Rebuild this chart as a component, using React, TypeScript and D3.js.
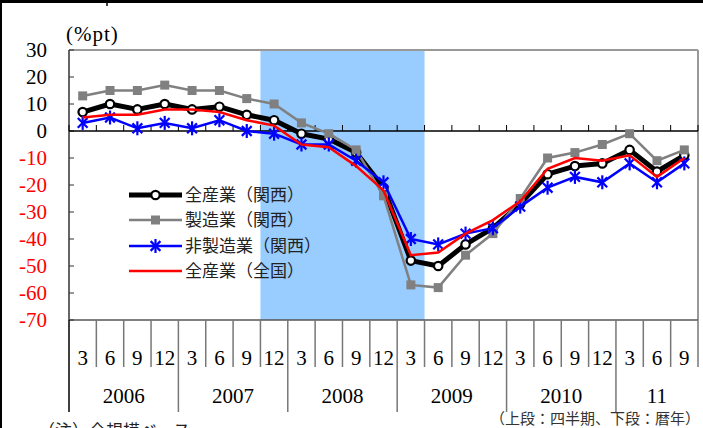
import React from "react";
import * as d3 from "d3";

const months = ["3","6","9","12","3","6","9","12","3","6","9","12","3","6","9","12","3","6","9","12","3","6","9"];
const years = ["2006","2007","2008","2009","2010","11"];
const yearSpans = [4,4,4,4,4,3];
const yTicks = [30,20,10,0,-10,-20,-30,-40,-50,-60,-70];

const allKansai = [7,10,8,10,8,9,6,4,-1,-3,-8,-21,-48,-50,-42,-36,-27,-16,-13,-12,-7,-15,-9];
const mfgKansai = [13,15,15,17,15,15,12,10,3,-1,-7,-24,-57,-58,-46,-38,-25,-10,-8,-5,-1,-11,-7];
const nonMfgKansai = [3,5,1,3,1,4,0,-1,-5,-5,-11,-19,-40,-42,-38,-36,-28,-21,-17,-19,-12,-19,-12];
const allJapan = [5,6,6,8,8,7,4,2,-5,-6,-13,-22,-46,-45,-38,-33,-26,-14,-10,-11,-9,-17,-10];

const seriesNames = ["全産業（関西）","製造業（関西）","非製造業（関西）","全産業（全国）"];
const recessionStart = 7;
const recessionEnd = 13;

const L = 69, R = 698, T = 50, B = 320;
const serif = "'Liberation Serif','Times New Roman',serif";
const cjk = "'Noto Sans CJK JP','Noto Sans',sans-serif";

function Star({x, y, s}: {x:number;y:number;s:number}) {
  const d = s*0.7;
  return (
    <g stroke="#0000ff" strokeWidth={2.2}>
      <line x1={x} y1={y-s} x2={x} y2={y+s}/>
      <line x1={x-d} y1={y-d} x2={x+d} y2={y+d}/>
      <line x1={x-d} y1={y+d} x2={x+d} y2={y-d}/>
    </g>
  );
}

export default function App() {
  const idx = d3.range(months.length);
  const x = d3.scaleBand<number>().domain(idx).range([L, R]).paddingInner(0).paddingOuter(0);
  const bw = x.bandwidth();
  const cx = (i:number) => (x(i) as number) + bw/2;
  const y = d3.scaleLinear().domain([-70,30]).range([B,T]);
  const line = (vals:number[]) => d3.line<number>().x((_,i)=>cx(i)).y(v=>y(v))(vals) as string;
  const boundaries = d3.range(months.length+1).map(k => L + k*bw);
  let acc = 0;
  const yearBounds = yearSpans.map(s => { const a = acc; acc += s; return [a, acc]; });

  const legendY = [195, 220, 246, 271];
  const lx1 = 129, lx2 = 182;

  return (
    <svg width={703} height={428} style={{position:"absolute", left:0, top:0}}>
      <rect width={703} height={428} fill="#fff"/>
      <line x1={0} y1={1.5} x2={703} y2={1.5} stroke="#000" strokeWidth={3}/>
      <line x1={1} y1={0} x2={1} y2={428} stroke="#000" strokeWidth={2}/>
      <line x1={107} y1={0} x2={107} y2={6} stroke="#000" strokeWidth={1.5}/>

      {/* recession shading */}
      <rect x={L + recessionStart*bw} y={T} width={(recessionEnd-recessionStart)*bw} height={B-T} fill="#99ccff"/>

      {/* frame */}
      <line x1={L} y1={T} x2={R} y2={T} stroke="#999" strokeWidth={2}/>
      <line x1={R} y1={T} x2={R} y2={B} stroke="#999" strokeWidth={2}/>
      <line x1={L} y1={B} x2={R} y2={B} stroke="#555" strokeWidth={1.5}/>
      <line x1={L} y1={T} x2={L} y2={B} stroke="#333" strokeWidth={1.5}/>

      {/* y ticks and labels */}
      {yTicks.map(t => (
        <g key={t}>
          <line x1={L} x2={L+5} y1={y(t)} y2={y(t)} stroke="#333" strokeWidth={1}/>
          <text x={47} y={y(t)} dy="0.35em" textAnchor="end" fontFamily={serif} fontSize={21} fill={t<0?"#ff0000":"#000"}>{t}</text>
        </g>
      ))}
      <text x={66} y={41} fontFamily={serif} fontSize={21} letterSpacing={1} fill="#000">(%pt)</text>

      {/* zero line with ticks */}
      <line x1={L} x2={R} y1={y(0)} y2={y(0)} stroke="#000" strokeWidth={1.5}/>
      {boundaries.map((b,k) => (
        <line key={k} x1={b} x2={b} y1={y(0)-6} y2={y(0)} stroke="#000" strokeWidth={1}/>
      ))}

      {/* category axis */}
      {boundaries.map((b,k) => {
        const isYear = yearBounds.some(([a]) => a === k) ;
        const bottom = (isYear || k===0) ? 412 : 367;
        return <line key={"d"+k} x1={b} x2={b} y1={B} y2={k===months.length?367:bottom} stroke={k===0?"#000":"#777"} strokeWidth={1.5}/>;
      })}
      {months.map((m,i) => (
        <text key={"m"+i} x={cx(i)} y={365} textAnchor="middle" fontFamily={serif} fontSize={21} fill="#000">{m}</text>
      ))}
      {years.map((yr,j) => {
        const [a,b] = yearBounds[j];
        return <text key={yr} x={(L+a*bw + L+b*bw)/2} y={403} textAnchor="middle" fontFamily={serif} fontSize={21} fill="#000">{yr}</text>;
      })}

      {/* series */}
      <path d={line(allKansai)} fill="none" stroke="#000" strokeWidth={5} strokeLinejoin="round"/>
      {allKansai.map((v,i) => <circle key={"c"+i} cx={cx(i)} cy={y(v)} r={4.2} fill="#fff" stroke="#000" strokeWidth={2.2}/>)}
      <path d={line(mfgKansai)} fill="none" stroke="#808080" strokeWidth={2.5}/>
      {mfgKansai.map((v,i) => <rect key={"s"+i} x={cx(i)-4.5} y={y(v)-4.5} width={9} height={9} fill="#808080"/>)}
      <path d={line(nonMfgKansai)} fill="none" stroke="#0000ff" strokeWidth={2.5}/>
      {nonMfgKansai.map((v,i) => <Star key={"st"+i} x={cx(i)} y={y(v)} s={7}/>)}
      <path d={line(allJapan)} fill="none" stroke="#ff0000" strokeWidth={2.5}/>

      {/* legend */}
      <g>
        <line x1={lx1} x2={lx2} y1={legendY[0]} y2={legendY[0]} stroke="#000" strokeWidth={5}/>
        <circle cx={(lx1+lx2)/2} cy={legendY[0]} r={4.2} fill="#fff" stroke="#000" strokeWidth={2.2}/>
        <line x1={lx1} x2={lx2} y1={legendY[1]} y2={legendY[1]} stroke="#808080" strokeWidth={2.5}/>
        <rect x={(lx1+lx2)/2-4.5} y={legendY[1]-4.5} width={9} height={9} fill="#808080"/>
        <line x1={lx1} x2={lx2} y1={legendY[2]} y2={legendY[2]} stroke="#0000ff" strokeWidth={2.5}/>
        <Star x={(lx1+lx2)/2} y={legendY[2]} s={7}/>
        <line x1={lx1} x2={lx2} y1={legendY[3]} y2={legendY[3]} stroke="#ff0000" strokeWidth={2.5}/>
        {seriesNames.map((n,i) => (
          <text key={n} x={185} y={legendY[i]} dy="0.36em" fontFamily={cjk} fontSize={17} fill="#222">{n}</text>
        ))}
      </g>

      <text x={700} y={424} textAnchor="end" fontFamily={cjk} fontSize={15} fill="#333">（上段：四半期、下段：暦年）</text>
      <text x={38} y={437} fontFamily={cjk} fontSize={17} fill="#222">（注）全規模ベース</text>
    </svg>
  );
}
